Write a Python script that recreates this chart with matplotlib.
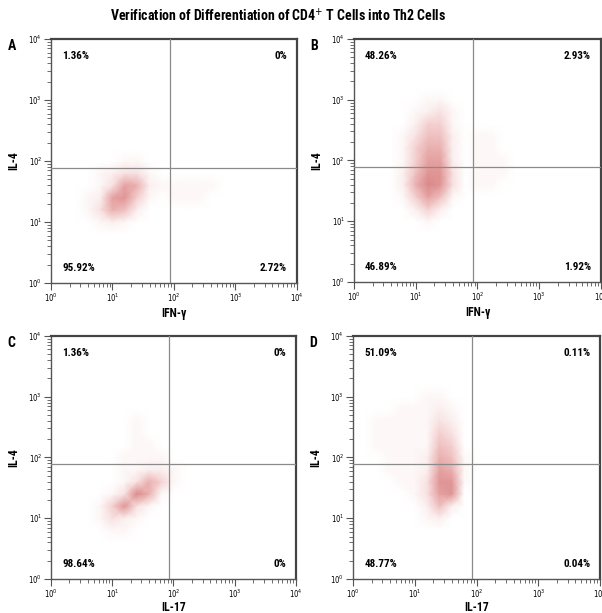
import numpy as np
import matplotlib

matplotlib.use("Agg")
import matplotlib.pyplot as plt
from matplotlib import font_manager
from matplotlib.colors import LinearSegmentedColormap
from matplotlib.ticker import FixedLocator, LogLocator, NullFormatter

# narrow face if the box has one, else condensed DejaVu
installed = {f.name for f in font_manager.fontManager.ttflist}
family = "DejaVu Sans"
for cand in ["Liberation Sans Narrow", "Roboto Condensed", "Open Sans Condensed"]:
    if cand in installed:
        family = cand
        break
plt.rcParams["font.family"] = [family, "DejaVu Sans"]
plt.rcParams["font.stretch"] = "condensed"

TITLE = "Verification of Differentiation of CD4$^{+}$ T Cells into Th2 Cells"
PANELS = ["A", "B", "C", "D"]
X_LABELS = ["IFN-γ", "IFN-γ", "IL-17", "IL-17"]
Y_LABELS = ["IL-4", "IL-4", "IL-4", "IL-4"]

# quadrant percentages: upper-left, upper-right, lower-left, lower-right
PCT_A = ["1.36%", "0%", "95.92%", "2.72%"]
PCT_B = ["48.26%", "2.93%", "46.89%", "1.92%"]
PCT_C = ["1.36%", "0%", "98.64%", "0%"]
PCT_D = ["51.09%", "0.11%", "48.77%", "0.04%"]

GATE_X = 85
GATE_Y = 78

# event density, 0-9, on a 0.2-decade grid
# rows top (10^4) to bottom (10^0), columns left (10^0) to right (10^4)
EMPTY = "000000000000000000000"
DENSITY_A = [EMPTY] * 10 + [
    "000000110000000000000",
    "000012331000000000000",
    "000013762111110000000",
    "000127841011100000000",
    "000136520000000000000",
    "000012100000000000000",
] + [EMPTY] * 5
DENSITY_B = [EMPTY] * 5 + [
    "000000110000000000000",
    "000001231000000000000",
    "000002441000000000000",
    "000013552011000000000",
    "000014662011000000000",
    "000014772011100000000",
    "000025883011100000000",
    "000026983011000000000",
    "000014751000000000000",
    "000002420000000000000",
    "000000100000000000000",
] + [EMPTY] * 5
DENSITY_C = [EMPTY] * 7 + [
    "000000010000000000000",
    "000000010000000000000",
    "000000011000000000000",
    "000000111100000000000",
    "000000112210000000000",
    "000000136410000000000",
    "000001396100000000000",
    "000014831000000000000",
    "000013210000000000000",
    "000001100000000000000",
] + [EMPTY] * 4
DENSITY_D = [EMPTY] * 5 + [
    "000000110000000000000",
    "000011121000000000000",
    "001111132000000000000",
    "001111143000000000000",
    "001111154000000000000",
    "000111265100000000000",
    "000111276100000000000",
    "000011388100000000000",
    "000001378000000000000",
    "000000252000000000000",
    "000000120000000000000",
] + [EMPTY] * 5

PERCENTS = [PCT_A, PCT_B, PCT_C, PCT_D]
DENSITIES = [DENSITY_A, DENSITY_B, DENSITY_C, DENSITY_D]

# axes boxes in figure fractions (left, bottom, width, height)
BOXES = [
    (0.0847, 0.5383, 0.4086, 0.3980),
    (0.5880, 0.5400, 0.4103, 0.3964),
    (0.0847, 0.0555, 0.4070, 0.3964),
    (0.5864, 0.0555, 0.4103, 0.3964),
]

cmap = LinearSegmentedColormap.from_list(
    "flow", ["#ffffff", "#fbeded", "#f2c8c8", "#e6a4a4", "#db8989"])

fig = plt.figure(figsize=(6.02, 6.13), dpi=100)
fig.text(0.462, 0.975, TITLE, ha="center", va="center", fontsize=10, fontweight="bold")

edges = 10 ** (np.arange(21) * 0.2)
for i, box in enumerate(BOXES):
    ax = fig.add_axes(box)
    ax.set_xscale("log")
    ax.set_yscale("log")
    dens = np.array([[int(c) for c in row] for row in DENSITIES[i]], dtype=float)[::-1]
    ax.pcolormesh(edges, edges, dens, shading="gouraud", cmap=cmap, vmin=0, vmax=9,
                  rasterized=True)
    ax.set_xlim(1, 1e4)
    ax.set_ylim(1, 1e4)
    ax.axvline(GATE_X, color="#8a8a8a", lw=0.9, zorder=3)
    ax.axhline(GATE_Y, color="#8a8a8a", lw=0.9, zorder=3)

    major = [1, 10, 100, 1000, 10000]
    labels = ["$10^{0}$", "$10^{1}$", "$10^{2}$", "$10^{3}$", "$10^{4}$"]
    for axis in (ax.xaxis, ax.yaxis):
        axis.set_major_locator(FixedLocator(major))
        axis.set_minor_locator(LogLocator(base=10, subs=np.arange(2, 10)))
        axis.set_minor_formatter(NullFormatter())
    ax.set_xticks(major, labels)
    ax.set_yticks(major, labels)
    ax.tick_params(which="major", length=5, width=0.8, labelsize=5.5, pad=1.5, color="#555555")
    ax.tick_params(which="minor", length=3, width=0.6, color="#555555")

    for side in ("left", "bottom"):
        ax.spines[side].set_color("#555555")
        ax.spines[side].set_linewidth(1.0)
    for side in ("top", "right"):
        ax.spines[side].set_color("#444444")
        ax.spines[side].set_linewidth(1.6)

    ax.set_xlabel(X_LABELS[i], fontsize=8.5, fontweight="bold", labelpad=2 if i < 2 else 0.5)
    ax.set_ylabel(Y_LABELS[i], fontsize=8.5, fontweight="bold", labelpad=6)

    ul, ur, ll, lr = PERCENTS[i]
    kw = dict(transform=ax.transAxes, fontsize=8, fontweight="bold", zorder=4)
    ax.text(0.045, 0.95, ul, ha="left", va="top", **kw)
    ax.text(0.96, 0.95, ur, ha="right", va="top", **kw)
    ax.text(0.045, 0.04, ll, ha="left", va="bottom", **kw)
    ax.text(0.96, 0.04, lr, ha="right", va="bottom", **kw)

    ax.text(-0.16, 1.0, PANELS[i], transform=ax.transAxes, fontsize=10,
            fontweight="bold", ha="center", va="top")

fig.savefig("out.png", dpi=100)
